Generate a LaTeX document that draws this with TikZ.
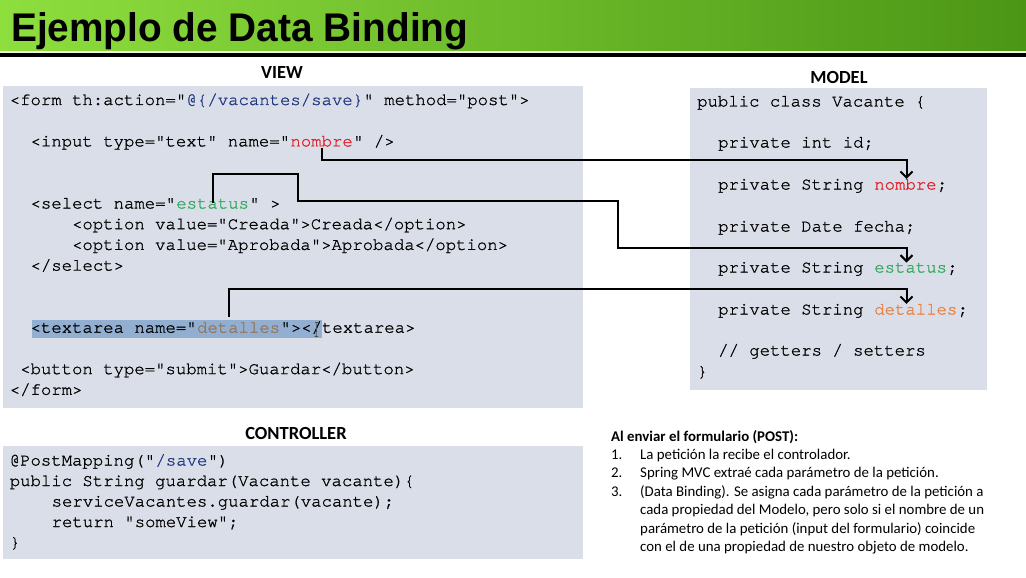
\documentclass[tikz,border=0pt]{standalone}
\usepackage{fontspec}
\setmonofont{texgyrecursor-regular.otf}[FakeBold=1.1]
\newfontfamily\labelfont{Carlito}
\newfontfamily\titlefont{Liberation Sans}[FakeStretch=0.97]
\usetikzlibrary{arrows.meta}

\definecolor{barlight}{RGB}{142,222,62}
\definecolor{bardark}{RGB}{76,150,22}
\definecolor{panelfill}{RGB}{218,222,232}
\definecolor{selblue}{RGB}{146,175,209}
\definecolor{codeblue}{RGB}{32,56,128}
\definecolor{codered}{RGB}{228,30,40}
\definecolor{codegreen}{RGB}{52,168,92}
\definecolor{codebrown}{RGB}{150,118,86}
\definecolor{codeorange}{RGB}{234,126,60}

\begin{document}
\begin{tikzpicture}[x=1pt,y=-1pt,
  code/.style={anchor=base west, inner sep=0pt, font=\ttfamily\fontsize{17.3}{20}\selectfont},
  panel/.style={fill=panelfill, draw=none, anchor=north west, inner sep=0pt},
  paneltitle/.style={inner sep=0pt, font=\labelfont\bfseries\fontsize{18.5}{22}\selectfont},
  note/.style={anchor=base west, inner sep=0pt, font=\labelfont\fontsize{14.85}{18.4}\selectfont},
  link/.style={line width=2pt, black, line join=miter},
  tip/.style={-{Straight Barb[length=6pt,width=12pt]}}
]
\useasboundingbox (0,0) rectangle (1026,578);

% title bar
\shade[left color=barlight, right color=bardark] (0,0) rectangle (1026,51);
\fill[white!85!barlight] (0,51) rectangle (1026,53);
\fill[black] (0,53) rectangle (1026,57.5);
\node[anchor=base west, inner sep=0pt, font=\titlefont\bfseries\fontsize{40}{48}\selectfont] (title) at (11,42) {Ejemplo de Data Binding};

% panels
\node[panel, minimum width=580, minimum height=322] (viewbox) at (3,86) {};
\node[panel, minimum width=297, minimum height=302] (modelbox) at (690,88) {};
\node[panel, minimum width=580, minimum height=113] (ctrlbox) at (3,446) {};

\node[paneltitle] (viewlbl) at (282,73) {VIEW};
\node[paneltitle] (modellbl) at (839,77) {MODEL};
\node[paneltitle] (ctrllbl) at (296,433) {CONTROLLER};

% selection highlight in the view
\node[fill=selblue, inner sep=0pt, minimum width=290.5, minimum height=18, anchor=north west] (sel) at (31.5,319.5) {};

% view code
\node[code] (vForm) at (9.6,105) {<form th:action="};
\node[code] (vAction) at (vForm.base east) {\textcolor{codeblue}{@\{/vacantes/save\}}};
\node[code] (vFormEnd) at (vAction.base east) {" method="post">};

\node[code] (vInput) at (30.4,146.4) {<input type="text" name="};
\node[code] (vNombre) at (vInput.base east) {\textcolor{codered}{nombre}};
\node[code] (vInputEnd) at (vNombre.base east) {" />};

\node[code] (vSelect) at (30.4,208.5) {<select name="};
\node[code] (vEstatus) at (vSelect.base east) {\textcolor{codegreen}{estatus}};
\node[code] (vSelectEnd) at (vEstatus.base east) {" >};
\node[code] (vOpt1) at (71.9,229.2) {<option value="Creada">Creada</option>};
\node[code] (vOpt2) at (71.9,249.9) {<option value="Aprobada">Aprobada</option>};
\node[code] (vSelectClose) at (30.4,270.6) {</select>};

\node[code] (vText) at (30.4,332.7) {<textarea name="};
\node[code] (vDetalles) at (vText.base east) {\textcolor{codebrown}{detalles}};
\node[code] (vTextEnd) at (vDetalles.base east) {"></textarea>};

\node[code] (vButton) at (20,374.1) {<button type="submit">Guardar</button>};
\node[code] (vFormClose) at (9.6,394.8) {</form>};

% text cursor
\draw[black!70, line width=0.7pt] (315,322.5) -- (318.5,322.5) (316.8,322.5) -- (316.2,336.5) (314.5,336.5) -- (318,336.5);

% model code
\node[code] (mClass) at (697,106.5) {public class Vacante \{};
\node[code] (mId) at (718,147.5) {private int id;};
\node[code] (mS1) at (718,189.5) {private String};
\node[code] (mNombre) at ([xshift=10.38pt]mS1.base east) {\textcolor{codered}{nombre}};
\node[code] (mS1end) at (mNombre.base east) {;};
\node[code] (mFecha) at (718,231.5) {private Date fecha;};
\node[code] (mS2) at (718,272.5) {private String};
\node[code] (mEstatus) at ([xshift=10.38pt]mS2.base east) {\textcolor{codegreen}{estatus}};
\node[code] (mS2end) at (mEstatus.base east) {;};
\node[code] (mS3) at (718,314.5) {private String};
\node[code] (mDetalles) at ([xshift=10.38pt]mS3.base east) {\textcolor{codeorange}{detalles}};
\node[code] (mS3end) at (mDetalles.base east) {;};
\node[code] (mAccess) at (718,355.5) {// getters / setters};
\node[code] (mClose) at (697,376.5) {\}};

% controller code
\node[code] (cMap) at (9.6,465.5) {@PostMapping("};
\node[code] (cPath) at (cMap.base east) {\textcolor{codeblue}{/save}};
\node[code] (cMapEnd) at (cPath.base east) {")};
\node[code] (cSig) at (9.6,486) {public String guardar(Vacante vacante)\{};
\node[code] (cCall) at (51.5,506.5) {serviceVacantes.guardar(vacante);};
\node[code] (cRet) at (51.5,527) {return "someView";};
\node[code] (cClose) at (9.6,547.5) {\}};

% notes
\node[note, font=\labelfont\bfseries\fontsize{14.85}{18.4}\selectfont] (nHead) at (611,441) {Al enviar el formulario (POST):};
\node[note] (n1) at (611,459.4) {1.};
\node[note] (t1) at (640,459.4) {La petición la recibe el controlador.};
\node[note] (n2) at (611,477.8) {2.};
\node[note] (t2) at (640,477.8) {Spring MVC extraé cada parámetro de la petición.};
\node[note] (n3) at (611,496.2) {3.};
\node[note] (t3a) at (640,496.2) {(Data Binding). Se asigna cada parámetro de la petición a};
\node[note] (t3b) at (640,514.6) {cada propiedad del Modelo, pero solo si el nombre de un};
\node[note] (t3c) at (640,533) {parámetro de la petición (input del formulario) coincide};
\node[note] (t3d) at (640,551.4) {con el de una propiedad de nuestro objeto de modelo.};

% binding connectors
\coordinate (n0) at (321.7,148);
\coordinate (nA) at (906.5,159.5);
\draw[link, tip] (n0) |- (nA) -- (nA |- mNombre.north);

\coordinate (e0) at (213.3,203.3);
\coordinate (eA) at (298,174);
\coordinate (eB) at (617.5,201);
\coordinate (eC) at (906.5,248);
\draw[link, tip] (e0) |- (eA) |- (eB) |- (eC) -- (eC |- mEstatus.north);

\coordinate (d0) at (229.3,316.5);
\coordinate (dA) at (906.5,288.5);
\draw[link, tip] (d0) |- (dA) -- (dA |- mDetalles.north);
\end{tikzpicture}
\end{document}
